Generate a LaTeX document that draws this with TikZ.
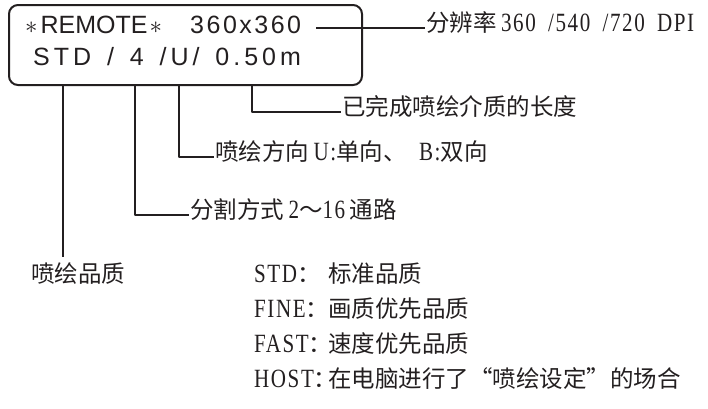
\documentclass[tikz,border=0pt]{standalone}
\usepackage{fontspec}
\setmainfont{Liberation Sans}
\newfontfamily\cjk{Noto Sans CJK SC}
\newfontfamily\latc[FakeStretch=0.8,Scale=1.12,LetterSpace=6,WordSpace=1.8]{Liberation Serif}
\newfontfamily\lcdwide[LetterSpace=16,WordSpace=1.45]{Liberation Sans}
\newfontfamily\lcdres[LetterSpace=10]{Liberation Sans}
\usetikzlibrary{positioning}
\definecolor{InkBlack}{HTML}{231F20}
\newcommand{\lat}[1]{{\latc #1}}

\begin{document}
\begin{tikzpicture}[x=1pt,y=-1pt,line join=round,
 lcdtext/.style={anchor=base west,inner sep=0pt,text=InkBlack,
                 font=\fontsize{25}{25}\selectfont},
 note/.style={anchor=west,inner sep=1pt,text=InkBlack,text height=0.88em,
              text depth=0.12em,font=\fontsize{23.5}{24}\selectfont\cjk},
 leader/.style={draw=InkBlack,line width=1.1pt}]
\useasboundingbox (0,0) rectangle (708,408);
% display panel
\node[draw=InkBlack,line width=2pt,rounded corners=9pt,inner sep=0pt,
      minimum width=353pt,minimum height=80pt,anchor=north west] (lcd) at (8,4) {};
\node[lcdtext] (remote) at (25,33) {$\ast$\hspace{3pt}REMOTE\hspace{2pt}$\ast$};
\node[lcdtext,font=\fontsize{25}{25}\selectfont\lcdres] (res) at (190,33) {360x360};
\node[lcdtext,font=\fontsize{25}{25}\selectfont\lcdwide] (state) at (33,65) {STD / 4 /U/ 0.50m};
% notes
\node[note] (dpi) at (425,28) {分辨率\lat{\,360 /540 /720 DPI}};
\node[note] (length) at (341,112) {已完成喷绘介质的长度};
\node[note] (dir) at (214,157) {喷绘方向\lat{\,U:}单向、\lat{ B:}双向};
\node[note] (split) at (189,215) {分割方式\lat{\,2}～\lat{16\,}通路};
\node[note] (quality) at (30,279) {喷绘品质};
\foreach \key/\txt [count=\i from 0] in {STD/标准品质,FINE/画质优先品质,
    FAST/速度优先品质,HOST/在电脑进行了“喷绘设定”的场合}{
  \node[note] (key\i) at (253,279+35*\i) {\lat{\key}：};
  \node[note] (val\i) at (327,279+35*\i) {\txt};
}
% leaders
\coordinate (tq) at (63,84);
\coordinate (tqend) at (63,257);
\coordinate (t4) at (135,84);
\coordinate (tu) at (179,84);
\coordinate (tlen) at (252,84);
\draw[leader] (dpi.west -| res.east) ++(15,0) -- (dpi.west);
\draw[leader] (tlen) |- (length.west);
\draw[leader] (tu) |- (dir.west);
\draw[leader] (t4) |- (split.west);
\draw[leader] (tq) -- (tqend);
\end{tikzpicture}
\end{document}
